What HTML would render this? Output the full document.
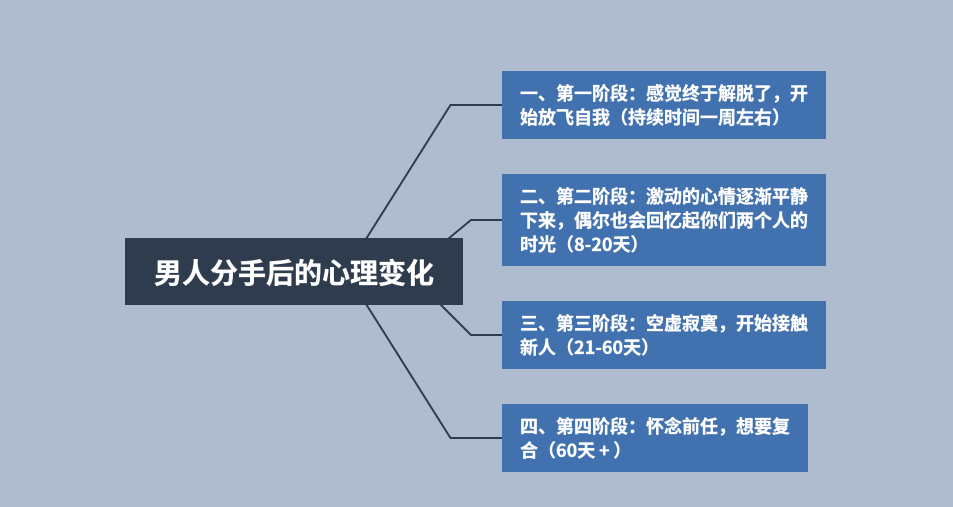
<!DOCTYPE html>
<html lang="zh">
<head>
<meta charset="utf-8">
<style>
html,body{margin:0;padding:0;width:953px;height:507px;overflow:hidden;background:#afbccf;}
body{position:relative;font-family:"Noto Sans CJK SC",sans-serif;font-weight:700;color:#fff;-webkit-text-stroke:0.3px #fff;}
svg{position:absolute;left:0;top:0;}
.root{position:absolute;left:125px;top:238px;width:338px;height:67px;background:#2f3c4d;font-size:28px;line-height:69px;text-align:left;text-indent:29px;white-space:nowrap;}
.n{position:absolute;left:502px;width:324px;background:#4171af;font-size:18px;line-height:24px;}
.n div{position:absolute;left:18px;white-space:nowrap;}
.p{display:inline-block;width:18px;text-align:center;font-size:18px;line-height:18px;}
</style>
</head>
<body>
<svg width="953" height="507" viewBox="0 0 953 507">
<g fill="none" stroke="#2f3c4d" stroke-width="2">
<polyline points="366,239 450.500,105 503,105"/>
<polyline points="448,239 471,220 503,220"/>
<polyline points="440,304 471,335 503,335"/>
<polyline points="366,304 450.500,438 503,438"/>
</g>
</svg>
<div class="root">男人分手后的心理变化</div>
<div class="n" style="top:71px;height:68px;"><div style="top:10px;">一、第一阶段：感觉终于解脱了，开<br>始放飞自我（持续时间一周左右）</div></div>
<div class="n" style="top:174px;height:92px;"><div style="top:10px;">二、第二阶段：激动的心情逐渐平静<br>下来，偶尔也会回忆起你们两个人的<br>时光（8-20天）</div></div>
<div class="n" style="top:301px;height:68px;"><div style="top:10px;">三、第三阶段：空虚寂寞，开始接触<br>新人（21-60天）</div></div>
<div class="n" style="top:404px;height:68px;width:306px;"><div style="top:10px;">四、第四阶段：怀念前任，想要复<br>合（60天<span class="p">+</span>）</div></div>
</body>
</html>
